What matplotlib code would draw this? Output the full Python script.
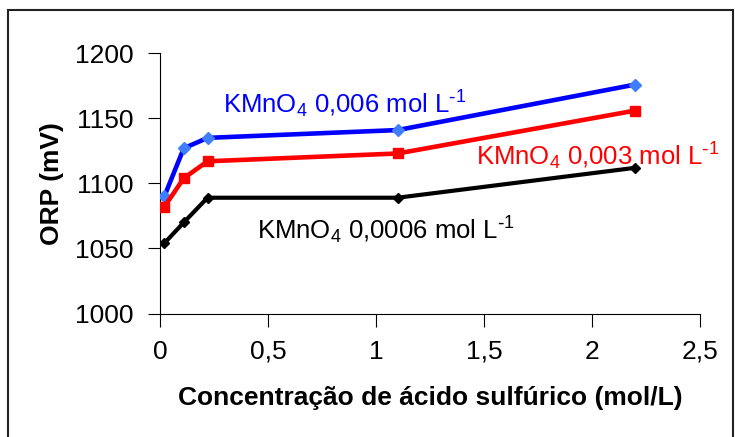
import matplotlib
matplotlib.use("Agg")
import matplotlib.pyplot as plt
from matplotlib.patches import Rectangle

plt.rcParams['font.family'] = ['Liberation Sans', 'DejaVu Sans']
plt.rcParams['mathtext.default'] = 'regular'

# Sulfuric acid concentration (mol/L) and ORP readings (mV)
acid = [0.02, 0.11, 0.22, 1.1, 2.2]
orp_0006 = [1054, 1070, 1089, 1089, 1112]   # KMnO4 0,0006 mol/L
orp_003 = [1082, 1104, 1117, 1123, 1156]    # KMnO4 0,003 mol/L
orp_006 = [1090, 1127, 1135, 1141, 1176]    # KMnO4 0,006 mol/L

x_ticks = [0, 0.5, 1, 1.5, 2, 2.5]
x_tick_labels = ['0', '0,5', '1', '1,5', '2', '2,5']
y_ticks = [1000, 1050, 1100, 1150, 1200]

fig = plt.figure(figsize=(7.35, 4.37), dpi=100)
ax = fig.add_axes([0.2177, 0.2826, 0.7347, 0.5954])

ax.plot(acid, orp_006, color='#0000ff', lw=3.3, marker='D', ms=6,
        mfc='#3f7fff', mec='#3f7fff', zorder=4)
ax.plot(acid, orp_003, color='#ff0000', lw=3.3, marker='s', ms=7,
        mfc='#ff0000', mec='#ff0000', zorder=4)
ax.plot(acid, orp_0006, color='black', lw=3, marker='D', ms=5,
        mfc='black', mec='black', zorder=4)

label_size = 18.5
ax.text(0.29, 1154, 'KMnO$_4$ 0,006 mol L$^{\\text{-}1}$', color='#0000ff', fontsize=label_size)
ax.text(1.463, 1114, 'KMnO$_4$ 0,003 mol L$^{\\text{-}1}$', color='#ff0000',
        fontsize=label_size, zorder=3)
ax.text(0.45, 1057, 'KMnO$_4$ 0,0006 mol L$^{\\text{-}1}$', color='black', fontsize=label_size)

ax.set_xlim(0, 2.5)
ax.set_ylim(1000, 1200)
ax.set_xticks(x_ticks)
ax.set_xticklabels(x_tick_labels)
ax.set_yticks(y_ticks)
ax.tick_params(labelsize=19, direction='out', length=9, width=0.8, pad=10)

for side in ['top', 'right']:
    ax.spines[side].set_visible(False)
for side in ['left', 'bottom']:
    ax.spines[side].set_linewidth(0.8)

ax.set_ylabel('ORP (mV)', fontsize=19, fontweight='bold', labelpad=8)
ax.set_xlabel('Concentração de ácido sulfúrico (mol/L)', fontsize=19,
              fontweight='bold', labelpad=16)

# outer frame around the figure
fig.patches.append(Rectangle((8 / 735, -0.05), 725 / 735, 1.05 - 10 / 437,
                             transform=fig.transFigure, fill=False,
                             edgecolor='#222222', lw=1.5))

fig.savefig('out.png', dpi=100)
